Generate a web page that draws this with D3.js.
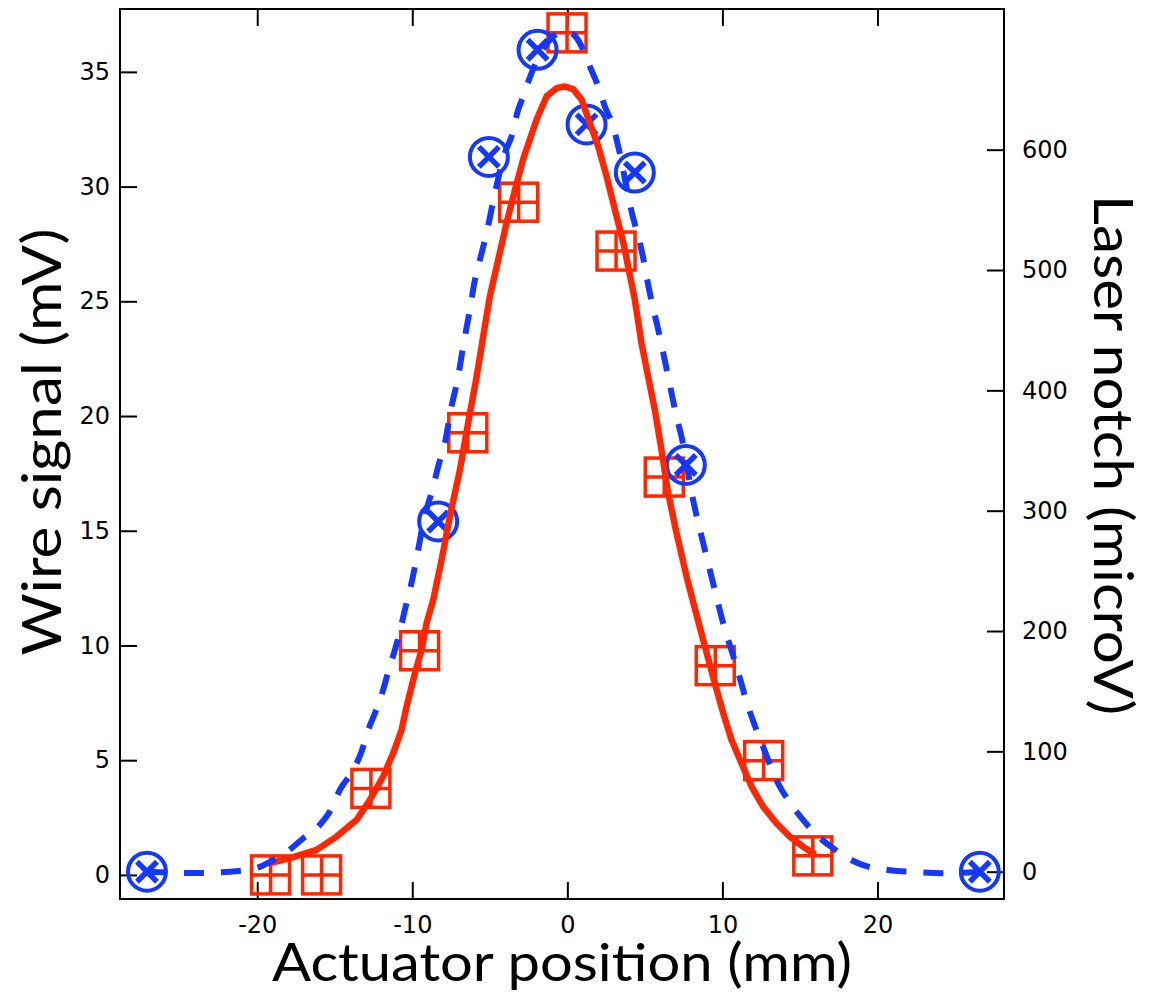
<!DOCTYPE html>
<html>
<head>
<meta charset="utf-8">
<script src="https://cdn.jsdelivr.net/npm/d3@7"></script>
<style>
  body { margin: 0; background: #fff; }
  svg { display: block; }
</style>
</head>
<body>
<svg id="chart" width="1153" height="994"></svg>
<script>
// Wire scan: measured points (mm, mV)
const wirePosition = [-19.14, -15.85, -12.67, -9.53, -6.42, -3.14, -0.02, 3.14, 6.25, 9.54, 12.66, 15.83];
const wireSignal   = [0.0, 0.0, 3.77, 9.77, 19.27, 29.32, 36.7, 27.19, 17.34, 9.12, 4.98, 0.83];

// Wire scan: continuous trace (mm, mV)
const wireTraceX = [-19.18, -17.89, -16.17, -14.88, -13.59, -12.73, -11.88, -11.23, -10.69, -10.37, -9.83, -9.40,
  -9.08, -8.65, -8.11, -7.58, -6.93, -6.40, -5.85, -5.43, -5.00, -4.46, -3.92, -3.38, -2.85, -1.99, -1.34,
  -0.70, -0.16, 0.37, 0.92, 1.45, 1.99, 2.53, 3.06, 3.64, 4.35, 4.78, 5.21, 5.64, 6.07, 6.50, 7.04, 7.69,
  8.16, 8.76, 9.51, 10.05, 10.59, 11.23, 11.88, 12.62, 13.49, 14.35, 15.20, 15.85];
const wireTraceY = [0.51, 0.73, 1.09, 1.67, 2.40, 3.27, 4.29, 5.31, 6.32, 7.34, 8.79, 9.81,
  10.97, 11.99, 13.73, 15.62, 17.65, 19.69, 21.72, 23.47, 25.21, 26.81, 28.41, 29.85, 31.19, 32.91, 33.93,
  34.29, 34.36, 34.25, 33.79, 32.77, 31.75, 30.44, 29.01, 27.46, 25.07, 23.18, 21.72, 20.27, 18.53, 16.64, 14.90, 13.00,
  11.77, 10.24, 8.36, 7.05, 5.88, 4.87, 3.85, 2.98, 2.25, 1.67, 1.23, 0.95];

// Laser notch: measured points (mm, microV)
const notchPosition = [-27.11, -8.33, -5.06, -1.92, 1.24, 4.35, 7.64, 26.6];
const notchSignal   = [0, 291, 594, 683, 621, 581, 338, 0];

// Laser notch: fitted profile (mm, microV)
const notchFitX = [-27.11, -23.89, -21.18, -19.70, -19.18, -18.21, -17.03, -16.07, -15.20, -14.67, -13.81, -13.27,
  -12.84, -12.41, -11.88, -11.55, -11.12, -10.80, -10.48, -10.15, -9.62, -9.30, -8.65, -8.33, -7.90, -7.47,
  -7.04, -6.72, -6.29, -5.96, -5.64, -5.21, -4.67, -4.03, -3.60, -3.17, -2.85, -2.31, -1.88, -1.13, -0.59,
  -0.16, 0.42, 1.02, 1.45, 1.99, 2.42, 2.95, 3.28, 4.14, 4.78, 5.32, 5.96, 6.50, 7.04, 7.36, 8.11, 8.76,
  9.40, 10.05, 10.91, 11.66, 12.62, 13.70, 14.24, 15.20, 15.96, 17.14, 18.10, 19.39, 20.68, 22.73, 24.66, 26.6];
const notchFitY = [0, -1.1, 0.6, 4.7, 8.1, 15.3, 27.8, 37.4, 52.7, 67.9, 84.5, 99.8,
  117.8, 131.7, 151.0, 166.3, 184.3, 199.5, 217.5, 234.2, 267.4, 289.6, 320.0, 336.7, 356.1, 386.5,
  411.5, 436.4, 466.9, 491.9, 508.5, 530.7, 563.9, 597.2, 611.0, 633.2, 644.2, 663.7, 676.1, 691.4, 696.9,
  698.3, 695.5, 683.0, 669.2, 652.5, 635.9, 619.3, 602.7, 548.7, 516.8, 480.8, 444.7, 411.5, 378.2, 361.6, 309.0, 273.0,
  239.7, 206.5, 170.4, 137.2, 103.9, 70.7, 59.6, 43.0, 31.9, 19.5, 11.1, 4.2, 1.4, -0.5, -1.3, 0];

const xTicks = [-20, -10, 0, 10, 20];
const leftTicks = [0, 5, 10, 15, 20, 25, 30, 35];
const rightTicks = [0, 100, 200, 300, 400, 500, 600];

const RED = "#ff2600";
const BLUE = "#1438ff";

const svg = d3.select("#chart");
const frame = { left: 120, right: 1004, top: 9, bottom: 899 };

const x = d3.scaleLinear().domain([-28.85, 28.16]).range([frame.left, frame.right]);
const yL = d3.scaleLinear().domain([-1.05, 37.74]).range([frame.bottom, frame.top]);
const yR = d3.scaleLinear().domain([-22.7, 716.9]).range([frame.bottom, frame.top]);

const tickFont = "'DejaVu Sans', Verdana, sans-serif";
const titleFont = "Lato, 'Open Sans', sans-serif";
const plain = d => String(d);

function styleAxis(g) {
  g.select(".domain").remove();
  g.selectAll(".tick line").attr("stroke", "#000").attr("stroke-width", 2);
  g.selectAll(".tick text").attr("fill", "#000")
    .style("font-family", tickFont).style("font-size", "24px");
}

// Axes with inward ticks
svg.append("g").attr("transform", `translate(0,${frame.bottom})`)
  .call(d3.axisBottom(x).tickValues(xTicks).tickFormat(plain).tickSizeInner(-17).tickSizeOuter(0).tickPadding(17))
  .call(styleAxis);
svg.append("g").attr("transform", `translate(0,${frame.top})`)
  .call(d3.axisTop(x).tickValues(xTicks).tickFormat("").tickSizeInner(-17).tickSizeOuter(0))
  .call(styleAxis);
svg.append("g").attr("transform", `translate(${frame.left},0)`)
  .call(d3.axisLeft(yL).tickValues(leftTicks).tickFormat(plain).tickSizeInner(-17).tickSizeOuter(0).tickPadding(10))
  .call(styleAxis);
svg.append("g").attr("transform", `translate(${frame.right},0)`)
  .call(d3.axisRight(yR).tickValues(rightTicks).tickFormat(plain).tickSizeInner(-17).tickSizeOuter(0).tickPadding(18))
  .call(styleAxis);

// Plot frame
svg.append("rect")
  .attr("x", frame.left).attr("y", frame.top)
  .attr("width", frame.right - frame.left).attr("height", frame.bottom - frame.top)
  .attr("fill", "none").attr("stroke", "#000").attr("stroke-width", 2);

// Wire scan markers: open squares with a cross
const sq = 19;
const wirePts = wirePosition.map((p, i) => [x(p), yL(wireSignal[i])]);
const sqG = svg.append("g").attr("stroke", RED).attr("stroke-width", 3.5).attr("fill", "none");
wirePts.forEach(([cx, cy]) => {
  sqG.append("rect").attr("x", cx - sq).attr("y", cy - sq).attr("width", 2 * sq).attr("height", 2 * sq);
  sqG.append("path").attr("d", `M${cx - sq},${cy}H${cx + sq}M${cx},${cy - sq}V${cy + sq}`);
});

// Laser notch markers: circles with an x
const cr = 19, xa = 10;
const notchPts = notchPosition.map((p, i) => [x(p), yR(notchSignal[i])]);
const cG = svg.append("g").attr("stroke", BLUE).attr("fill", "none");
notchPts.forEach(([cx, cy]) => {
  cG.append("circle").attr("cx", cx).attr("cy", cy).attr("r", cr).attr("stroke-width", 4);
  cG.append("path").attr("stroke-width", 5.5)
    .attr("d", `M${cx - xa},${cy - xa}L${cx + xa},${cy + xa}M${cx - xa},${cy + xa}L${cx + xa},${cy - xa}`);
});

// Wire scan continuous trace
svg.append("path")
  .datum(wireTraceX.map((p, i) => [p, wireTraceY[i]]))
  .attr("fill", "none").attr("stroke", RED).attr("stroke-width", 6.5)
  .attr("stroke-linejoin", "round").attr("stroke-linecap", "round")
  .attr("d", d3.line().x(d => x(d[0])).y(d => yL(d[1])));

// Laser notch fitted profile
svg.append("path")
  .datum(notchFitX.map((p, i) => [p, notchFitY[i]]))
  .attr("fill", "none").attr("stroke", BLUE).attr("stroke-width", 6)
  .attr("stroke-dasharray", "20,17")
  .attr("d", d3.line().curve(d3.curveMonotoneX).x(d => x(d[0])).y(d => yR(d[1])));

// Axis titles
svg.append("text")
  .attr("x", 562).attr("y", 981)
  .attr("text-anchor", "middle")
  .attr("textLength", 580).attr("lengthAdjust", "spacingAndGlyphs")
  .style("font-family", titleFont).style("font-size", "52px").attr("fill", "#000")
  .text("Actuator position (mm)");

svg.append("text")
  .attr("transform", "translate(61,442) rotate(-90)")
  .attr("text-anchor", "middle")
  .attr("textLength", 427).attr("lengthAdjust", "spacingAndGlyphs")
  .style("font-family", titleFont).style("font-size", "54px").attr("fill", "#000")
  .text("Wire signal (mV)");

svg.append("text")
  .attr("transform", "translate(1094,455) rotate(90)")
  .attr("text-anchor", "middle")
  .attr("textLength", 520).attr("lengthAdjust", "spacingAndGlyphs")
  .style("font-family", titleFont).style("font-size", "54px").attr("fill", "#000")
  .text("Laser notch (microV)");
</script>
</body>
</html>
